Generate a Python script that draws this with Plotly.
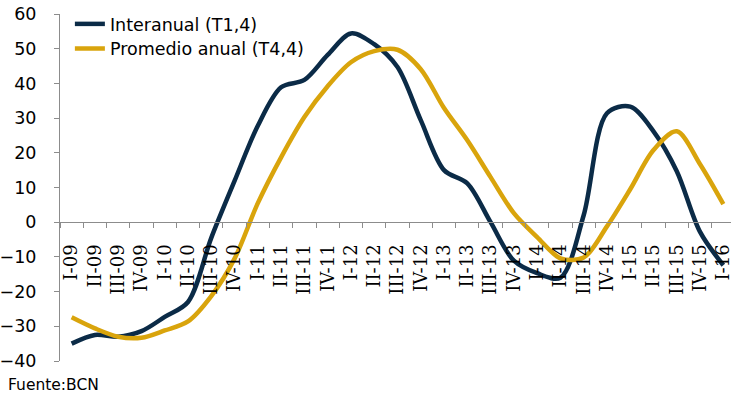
import plotly.graph_objects as go

# Quarterly categories, I-09 through I-16
quarters = [
    "I-09", "II-09", "III-09", "IV-09",
    "I-10", "II-10", "III-10", "IV-10",
    "I-11", "II-11", "III-11", "IV-11",
    "I-12", "II-12", "III-12", "IV-12",
    "I-13", "II-13", "III-13", "IV-13",
    "I-14", "II-14", "III-14", "IV-14",
    "I-15", "II-15", "III-15", "IV-15",
    "I-16",
]

# Year-on-year rate (T1,4)
interanual = [
    -35.0, -32.5, -33.0, -31.4,
    -27.3, -23.0, -4.5, 11.9,
    27.8, 38.9, 41.0, 48.2,
    54.4, 51.3, 44.7, 29.4,
    15.0, 11.2, 0.0, -11.1,
    -14.7, -16.0, 2.0, 31.4,
    33.3, 26.2, 14.7, -2.8,
    -12.4,
]

# Annual average rate (T4,4)
promedio_anual = [
    -27.4, -30.6, -33.0, -33.3,
    -31.2, -28.6, -21.3, -10.5,
    5.5, 18.7, 30.3, 39.2,
    46.1, 49.3, 49.7, 44.1,
    32.9, 23.6, 13.0, 2.6,
    -4.3, -10.4, -10.2, -1.2,
    9.5, 20.8, 26.2, 16.7,
    5.2,
]

y_ticks = [-40, -30, -20, -10, 0, 10, 20, 30, 40, 50, 60]

NAVY = "#0b2b47"
GOLD = "#d9a40c"
AXIS_GREY = "#8c8c8c"

W, H = 733, 393
M_L, M_R, M_T, M_B = 54, 0, 14, 32
plot_w = W - M_L - M_R
plot_h = H - M_T - M_B

Y_MIN, Y_MAX = -40, 60
zero_frac = (0 - Y_MIN) / (Y_MAX - Y_MIN)


def px_x(x):
    return (x - M_L) / plot_w


def px_y(y):
    return (H - M_B - y) / plot_h


fig = go.Figure()
fig.add_trace(go.Scatter(
    x=quarters, y=interanual, mode="lines", name="Interanual (T1,4)",
    line=dict(color=NAVY, width=4.5, shape="spline", smoothing=0.9),
    legend="legend",
))
fig.add_trace(go.Scatter(
    x=quarters, y=promedio_anual, mode="lines", name="Promedio anual (T4,4)",
    line=dict(color=GOLD, width=4.5, shape="spline", smoothing=0.9),
    legend="legend2",
))

legend_font = dict(family="DejaVu Sans", size=17.5, color="#000000")
legend_x = px_x(64)

fig.update_layout(
    width=W, height=H,
    margin=dict(l=M_L, r=M_R, t=M_T, b=M_B),
    paper_bgcolor="white", plot_bgcolor="white",
    showlegend=True,
    legend=dict(x=legend_x, y=px_y(24), xanchor="left", yanchor="middle",
                bgcolor="rgba(0,0,0,0)", font=legend_font),
    legend2=dict(x=legend_x, y=px_y(48.5), xanchor="left", yanchor="middle",
                 bgcolor="rgba(0,0,0,0)", font=legend_font),
    xaxis=dict(
        type="category",
        range=[-0.5, 28.33],
        anchor="free", position=zero_frac,
        showline=True, linecolor=AXIS_GREY, linewidth=1,
        ticks="outside", ticklen=5, tickcolor=AXIS_GREY, tickson="boundaries",
        tickangle=-90,
        tickfont=dict(family="DejaVu Serif", size=18, color="#000000"),
        ticklabelstandoff=14,
        showgrid=False, zeroline=False,
    ),
    yaxis=dict(
        range=[Y_MIN, Y_MAX],
        tickvals=y_ticks,
        showline=True, linecolor=AXIS_GREY, linewidth=1,
        ticks="outside", ticklen=5, tickcolor=AXIS_GREY,
        tickfont=dict(family="DejaVu Sans", size=17.5, color="#000000"),
        ticklabelstandoff=14,
        showgrid=False, zeroline=False,
    ),
    annotations=[dict(
        text="Fuente:BCN", xref="paper", yref="paper",
        x=px_x(0), y=px_y(385), xanchor="left", yanchor="middle",
        showarrow=False, borderpad=0,
        font=dict(family="DejaVu Sans", size=15.5, color="#000000"),
    )],
)

fig.write_html("out.html")
